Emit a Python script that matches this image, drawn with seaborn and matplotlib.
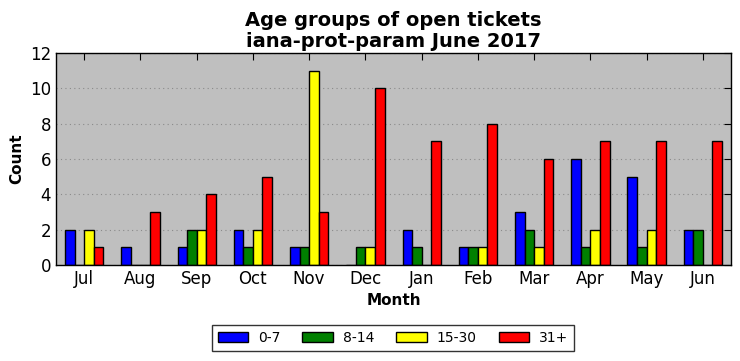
import matplotlib
matplotlib.use("Agg")
import matplotlib.pyplot as plt
import seaborn as sns
import pandas as pd

months = ["Jul", "Aug", "Sep", "Oct", "Nov", "Dec", "Jan", "Feb", "Mar", "Apr", "May", "Jun"]
groups = ["0-7", "8-14", "15-30", "31+"]
v_0_7 = [2, 1, 1, 2, 1, 0, 2, 1, 3, 6, 5, 2]
v_8_14 = [0, 0, 2, 1, 1, 1, 1, 1, 2, 1, 1, 2]
v_15_30 = [2, 0, 2, 2, 11, 1, 0, 1, 1, 2, 2, 0]
v_31p = [1, 3, 4, 5, 3, 10, 7, 8, 6, 7, 7, 7]
colors = ["#0000ff", "#008000", "#ffff00", "#ff0000"]

rows = []
for g, vals in zip(groups, [v_0_7, v_8_14, v_15_30, v_31p]):
    for m, v in zip(months, vals):
        rows.append({"Month": m, "Group": g, "Count": v})
df = pd.DataFrame(rows)

sns.set_style("white")
plt.rcParams['font.family'] = ['DejaVu Sans']
plt.rcParams['text.color'] = 'black'
plt.rcParams['axes.labelcolor'] = 'black'
plt.rcParams['xtick.color'] = 'black'
plt.rcParams['ytick.color'] = 'black'

fig = plt.figure(figsize=(7.4, 3.61), dpi=100)
ax = fig.add_axes([56/740, 1-265/361, (731-56)/740, (265-53)/361])
ax.set_facecolor("#bfbfbf")

sns.barplot(data=df, x="Month", y="Count", hue="Group", order=months, hue_order=groups,
            palette=colors, width=0.68, edgecolor="black", linewidth=1, saturation=1,
            ax=ax, legend=True)

ax.set_xlim(-0.5, 11.5)
ax.set_ylim(0, 12)
ax.set_yticks(range(0, 13, 2))
ax.yaxis.grid(True, linestyle=(0, (1, 3)), color="#8a8a8a", linewidth=0.8)
ax.set_axisbelow(True)
for s in ax.spines.values():
    s.set_color("black")
    s.set_linewidth(1)
ax.tick_params(axis="both", direction="in", top=True, right=True, length=5,
               labelsize=12, color="black", labelcolor="black")
ax.set_xlabel("Month", fontsize=11, fontweight="bold", color="black")
ax.set_ylabel("Count", fontsize=11, fontweight="bold", color="black")
ax.set_title("Age groups of open tickets\niana-prot-param June 2017", fontsize=14,
             fontweight="bold", linespacing=1.17, pad=4, color="black")

handles, labels = ax.get_legend_handles_labels()
ax.get_legend().remove()
leg = fig.legend(handles, labels, loc="center", bbox_to_anchor=(393/740, 1-338/361),
                 ncol=4, frameon=True, fontsize=10, fancybox=False, edgecolor="black",
                 handlelength=2.2, columnspacing=1.6, borderpad=0.4, handletextpad=0.7)
leg.get_frame().set_linewidth(1)

fig.savefig("out.png", dpi=100)
